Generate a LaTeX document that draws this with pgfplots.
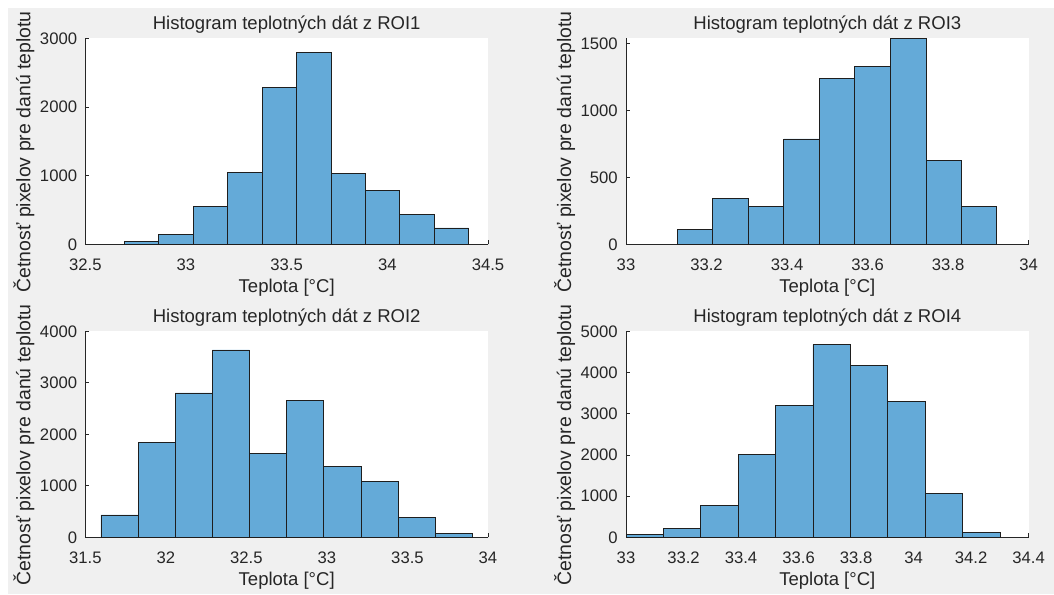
\documentclass[border=0pt]{standalone}
\usepackage{fontspec}
\setmainfont{Liberation Sans}
\usepackage{pgfplots}
\pgfplotsset{compat=1.18}
\definecolor{bg}{HTML}{F0F0F0}
\definecolor{txt}{HTML}{262626}
\definecolor{barblue}{RGB}{100,170,216}
\definecolor{edgec}{HTML}{1E1E1E}
\pgfplotsset{
 every axis title/.style={font=\fontsize{13.9}{16}\selectfont, text=txt,
     at={(axis description cs:0.5,1)}, anchor=base, yshift=6.5pt},
 every axis y label/.style={font=\fontsize{14.6}{16}\selectfont, text=txt,
     at={(axis description cs:0,0.5)}, anchor=center, rotate=90, yshift=46pt, xshift=-7.9pt},
 every axis x label/.style={font=\fontsize{13.9}{16}\selectfont, text=txt,
     at={(axis description cs:0.5,0)}, anchor=center, yshift=-32.6pt},
 hist/.style={
  scale only axis, width=302pt, height=154.5pt,
  axis x line*=bottom, axis y line*=left,
  axis line style={-, draw=txt, line width=0.6pt},
  axis background/.style={fill=white},
  tick align=inside, major tick length=3pt,
  tick style={draw=txt, line width=0.6pt},
  ticklabel style={font=\fontsize{12.5}{14}\selectfont, text=txt},
  xticklabel style={anchor=base, yshift=-19.5pt},
  yticklabel style={anchor=east, inner sep=0pt, xshift=-6pt},
  /pgf/number format/assume math mode=true,
  /pgf/number format/1000 sep={},
  xlabel={Teplota [°C]},
  ylabel={Četnosť pixelov pre danú teplotu},
  ymin=0, clip=false,
  anchor=south west,
 },
 bars/.style={ybar interval, fill=barblue, draw=edgec, line width=0.6pt},
}
\begin{document}
\begin{tikzpicture}
\fill[white] (0,0) rectangle (790.5pt,445.5pt);
\fill[bg] (6pt,0) rectangle (790.5pt,439.5pt);
\path[use as bounding box] (0,0) rectangle (790.5pt,445.5pt);

% ROI1
\begin{axis}[hist, at={(64pt,262.3pt)},
  xmin=32.5, xmax=34.5, ymax=3000,
  xtick={32.5,33,33.5,34,34.5}, ytick={0,1000,2000,3000},
  title={Histogram teplotných dát z ROI1}]
\addplot[bars] coordinates {
(32.694,44) (32.865,140) (33.036,552) (33.207,1045) (33.378,2288)
(33.549,2787) (33.720,1026) (33.891,779) (34.062,435) (34.233,237) (34.404,0)};
\end{axis}

% ROI3
\begin{axis}[hist, at={(469.5pt,262.3pt)},
  xmin=33, xmax=34, ymax=1540,
  xtick={33,33.2,33.4,33.6,33.8,34}, ytick={0,500,1000,1500},
  title={Histogram teplotných dát z ROI3}]
\addplot[bars] coordinates {
(33.127,110) (33.215,340) (33.303,280) (33.392,787) (33.480,1237)
(33.568,1330) (33.657,1540) (33.745,625) (33.833,280) (33.921,0)};
\end{axis}

% ROI2
\begin{axis}[hist, at={(64pt,42.5pt)},
  xmin=31.5, xmax=34, ymax=4000,
  xtick={31.5,32,32.5,33,33.5,34}, ytick={0,1000,2000,3000,4000},
  title={Histogram teplotných dát z ROI2}]
\addplot[bars] coordinates {
(31.597,434) (31.828,1838) (32.058,2803) (32.289,3638) (32.519,1625)
(32.750,2654) (32.981,1379) (33.211,1087) (33.442,382) (33.672,84) (33.903,0)};
\end{axis}

% ROI4
\begin{axis}[hist, at={(469.5pt,42.5pt)},
  xmin=33, xmax=34.4, ymax=5000,
  xtick={33,33.2,33.4,33.6,33.8,34,34.2,34.4}, ytick={0,1000,2000,3000,4000,5000},
  title={Histogram teplotných dát z ROI4}]
\addplot[bars] coordinates {
(33.00,81) (33.13,218) (33.26,769) (33.39,2006) (33.52,3212)
(33.65,4676) (33.78,4167) (33.91,3293) (34.04,1076) (34.17,113) (34.30,0)};
\end{axis}
\end{tikzpicture}
\end{document}
